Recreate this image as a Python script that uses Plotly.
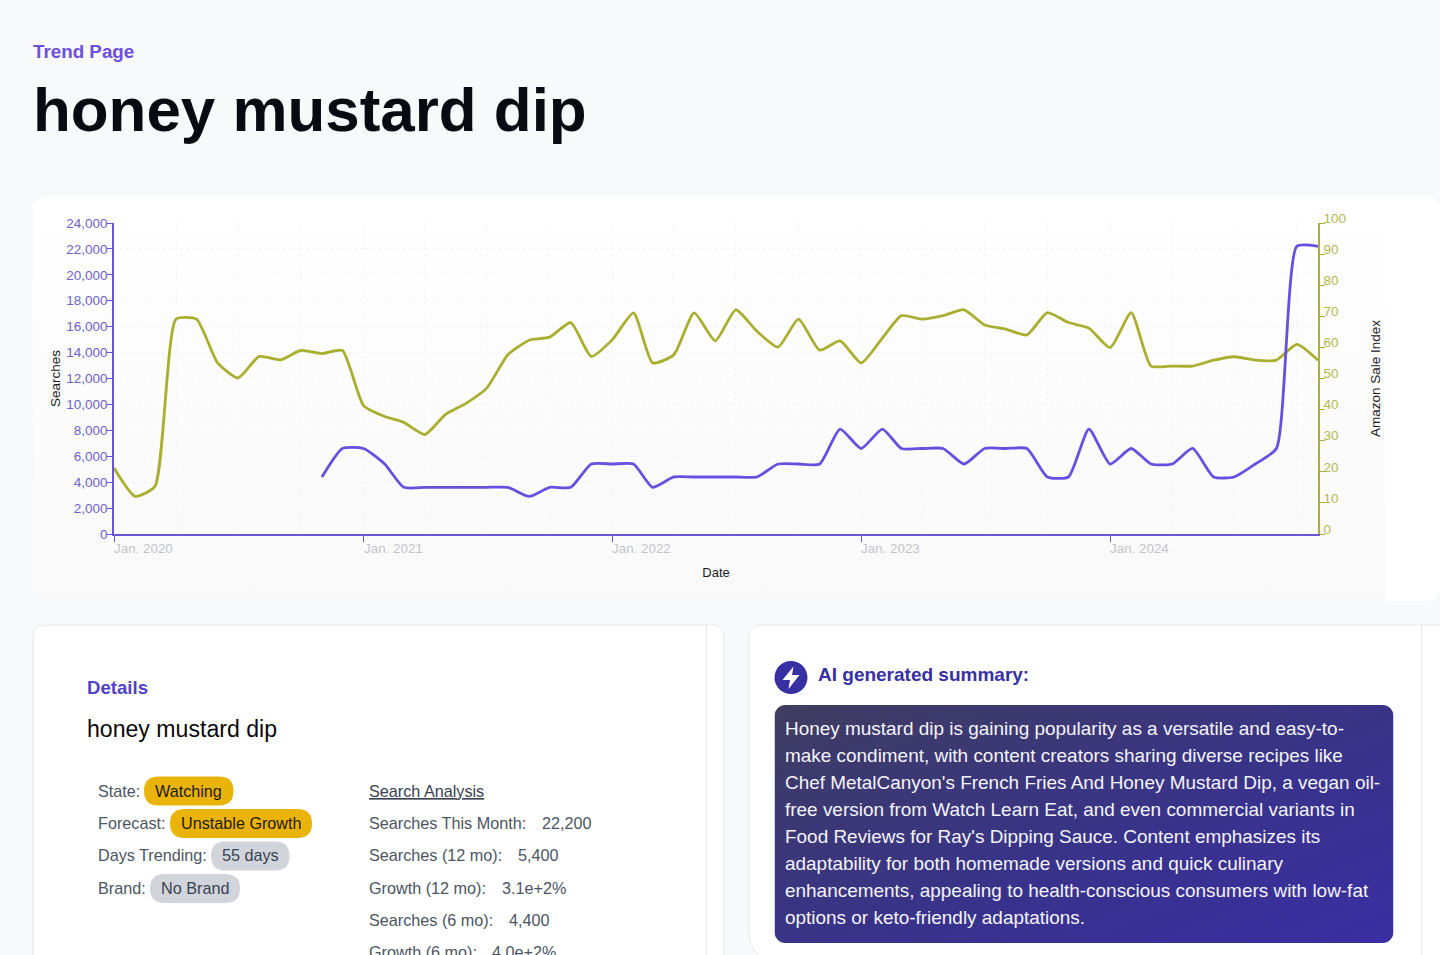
import base64
import pandas as pd
import plotly.graph_objects as go

W, H = 1440, 955
FONT = "Liberation Sans"

# ---- data -------------------------------------------------------------
dates = pd.date_range("2020-01-01", periods=59, freq="MS")
amazon_sale_index = [21.2, 12.1, 15.3, 69.1, 69.1, 55, 50.2, 57.1, 56, 59, 58, 59, 41.3, 37.8, 35.9, 32, 38.4, 42.1, 47, 57.7,
                     62.3, 63.3, 68, 57.1, 62.5, 71.1, 55, 57.6, 71.1, 62.1, 72.1, 65.2, 60.1, 69.1, 59.1, 62.1, 55, 63, 70.2, 69.1,
                     70.2, 72.1, 67.2, 65.9, 64, 71.2, 68, 66.2, 59.9, 71.2, 54, 54, 54, 55.9, 57, 55.9, 55.9, 61, 55.9]
searches = [None] * 10 + [4400, 6600, 6600, 5400, 3600, 3600, 3600, 3600, 3600, 3600,
                          2900, 3600, 3600, 5400, 5400, 5400, 3600, 4400, 4400, 4400, 4400, 4400, 5400, 5400, 5400, 8100, 6600, 8100, 6600, 6600,
                          6600, 5400, 6600, 6600, 6600, 4400, 4400, 8100, 5400, 6600, 5400, 5400, 6600, 4400, 4400, 5400, 6600, 22200, 22200]
year_ticks = ["2020-01-01", "2021-01-01", "2022-01-01", "2023-01-01", "2024-01-01"]
year_labels = ["Jan. 2020", "Jan. 2021", "Jan. 2022", "Jan. 2023", "Jan. 2024"]

detail_labels = ["State:", "Forecast:", "Days Trending:", "Brand:"]
detail_pills = ["Watching", "Unstable Growth", "55 days", "No Brand"]
search_labels = ["Searches This Month:", "Searches (12 mo):", "Growth (12 mo):", "Searches (6 mo):", "Growth (6 mo):"]
search_values = ["22,200", "5,400", "3.1e+2%", "4,400", "4.0e+2%"]
summary_lines = [
    "Honey mustard dip is gaining popularity as a versatile and easy-to-",
    "make condiment, with content creators sharing diverse recipes like",
    "Chef MetalCanyon's French Fries And Honey Mustard Dip, a vegan oil-",
    "free version from Watch Learn Eat, and even commercial variants in",
    "Food Reviews for Ray's Dipping Sauce. Content emphasizes its",
    "adaptability for both homemade versions and quick culinary",
    "enhancements, appealing to health-conscious consumers with low-fat",
    "options or keto-friendly adaptations.",
]

# ---- layout helpers (page pixels -> paper) ------------------------------
def px(x): return x / W
def py(y): return 1 - y / H

def rrect(x0, y0, x1, y1, r, rb=None):
    rb = r if rb is None else rb
    def P(x, y): return f"{px(x):.5f},{py(y):.5f}"
    return (f"M{P(x0 + r, y0)} L{P(x1 - r, y0)} Q{P(x1, y0)} {P(x1, y0 + r)} "
            f"L{P(x1, y1 - rb)} Q{P(x1, y1)} {P(x1 - rb, y1)} L{P(x0 + rb, y1)} "
            f"Q{P(x0, y1)} {P(x0, y1 - rb)} L{P(x0, y0 + r)} Q{P(x0, y0)} {P(x0 + r, y0)} Z")

def panel(x0, y0, x1, y1, r, fill, line=None, layer="below", rb=None):
    return dict(type="path", path=rrect(x0, y0, x1, y1, r, rb), xref="paper", yref="paper", fillcolor=fill,
                line=dict(color=line or "rgba(0,0,0,0)", width=1), layer=layer)

def text(x, y, s, size, color, bold=False, **kw):
    font = dict(family=FONT, size=size, color=color, weight="bold" if bold else "normal")
    font.update(kw.pop("font", {}))
    return dict(x=px(x), y=py(y - 0.7), xref="paper", yref="paper", text=s, showarrow=False, xanchor="left", yanchor="middle",
                borderpad=0, borderwidth=0, font=font, **kw)

def svg_uri(svg): return "data:image/svg+xml;base64," + base64.b64encode(svg.encode()).decode()

chart_card_svg = """<svg xmlns="http://www.w3.org/2000/svg" width="1407" height="404" viewBox="0 0 1407 404">
<defs><linearGradient id="g" x1="0" y1="0" x2="0" y2="1"><stop offset="0" stop-color="#ffffff"/><stop offset="1" stop-color="#f9f9fa"/></linearGradient></defs>
<rect width="1407" height="404" rx="14" fill="#ffffff"/><path d="M14 0H1352V404H14A14 14 0 0 1 0 390V14A14 14 0 0 1 14 0Z" fill="url(#g)"/></svg>"""
summary_svg = """<svg xmlns="http://www.w3.org/2000/svg" width="619" height="238" viewBox="0 0 619 238">
<defs><linearGradient id="s" x1="0" y1="0" x2="1" y2="1"><stop offset="0" stop-color="#3f3d60"/><stop offset="0.55" stop-color="#39338a"/><stop offset="1" stop-color="#3a2ea3"/></linearGradient></defs>
<rect width="619" height="238" rx="11" fill="url(#s)"/></svg>"""

PURPLE, OLIVE = "#6650e0", "#a9ae2e"
AX_PURPLE, AX_OLIVE = "#6a55d6", "#a9ae3c"
GRID = "#f3f3f5"

fig = go.Figure()
fig.add_trace(go.Scatter(x=dates, y=amazon_sale_index, yaxis="y", mode="lines", name="Amazon Sale Index",
                         line=dict(color=OLIVE, width=2.8, shape="spline", smoothing=0.55)))
fig.add_trace(go.Scatter(x=dates, y=searches, yaxis="y2", mode="lines", name="Searches",
                         line=dict(color=PURPLE, width=2.8, shape="spline", smoothing=0.55)))

shapes = [
    panel(33, 625, 724, 1000, 12, "#ffffff", "#e7e8ec"),
    dict(type="line", xref="paper", yref="paper", x0=px(706.5), x1=px(706.5), y0=py(625), y1=0, line=dict(color="#e7e8ec", width=1), layer="below"),
    panel(749, 625, 1470, 961, 14, "#ffffff", "#e7e8ec", rb=31),
    dict(type="line", xref="paper", yref="paper", x0=px(1421.5), x1=px(1421.5), y0=py(625), y1=0, line=dict(color="#e7e8ec", width=1), layer="below"),
]
pill_boxes = [(144, 776.5, 233.5, 805.5, "#eab308"), (170, 809, 312, 838, "#eab308"),
              (211, 841.5, 289.5, 870.5, "#d1d5db"), (150, 874, 240, 903, "#d1d5db")]
for b in pill_boxes:
    shapes.append(panel(b[0], b[1], b[2], b[3], 14.5, b[4]))
# AI icon
shapes.append(dict(type="circle", xref="paper", yref="paper", x0=px(774.5), x1=px(807.5), y0=py(661), y1=py(694),
                   fillcolor="#3730a3", line=dict(width=0), layer="above"))
bolt = [(793.5, 666.5), (782.5, 680), (790, 680), (788.5, 689), (799.5, 675), (792, 675)]
shapes.append(dict(type="path", xref="paper", yref="paper", fillcolor="#ffffff", line=dict(width=0), layer="above",
                   path="M" + " L".join(f"{px(a):.5f},{py(b):.5f}" for a, b in bolt) + " Z"))

ann = [
    text(32.5, 52.5, "Trend Page", 18.8, "#6d4fe0", True),
    text(33, 110, "honey mustard dip", 61.9, "#0a0a12", True),
    text(87, 688.5, "Details", 18.6, "#4f42c8", True),
    text(87, 729.5, "honey mustard dip", 23.1, "#0a0a0a"),
    text(369, 791.5, "Search Analysis", 16.2, "#374151", font=dict(lineposition="under")),
    text(818, 675, "AI generated summary:", 19, "#3730a3", True),
]
label_y = [791.5, 824, 856, 889]
label_x = [97.5, 97.5, 97.5, 97.5]
pill_text_x = [155, 181, 222, 161]
pill_color = ["#1f1a05", "#1f1a05", "#374151", "#374151"]
for i in range(4):
    ann.append(text(label_x[i], label_y[i], detail_labels[i], 16.2, "#4b5563"))
    ann.append(text(pill_text_x[i], label_y[i], detail_pills[i], 16.2, pill_color[i]))
sa_y = [824, 856, 888.5, 921, 953]
sa_val_x = [542, 518, 502, 508.5, 492]
for i in range(5):
    ann.append(text(369, sa_y[i], search_labels[i], 16.2, "#4b5563"))
    ann.append(text(sa_val_x[i], sa_y[i], search_values[i], 16.2, "#4b5563"))
for i, line in enumerate(summary_lines):
    ann.append(text(785, 729 + 27 * i, line, 18.95, "#f4f4fb"))
for t, lab in zip(year_ticks, year_labels):
    ann.append(dict(x=t, y=py(548.5), xref="x", yref="paper", text=lab, showarrow=False, xanchor="left", yanchor="middle",
                    borderpad=0, borderwidth=0, font=dict(family=FONT, size=13.4, color="#c4c4c8")))

fig.update_layout(
    width=W, height=H, autosize=False, showlegend=False,
    margin=dict(l=0, r=0, t=0, b=0, autoexpand=False), paper_bgcolor="#f8f9fb", plot_bgcolor="rgba(0,0,0,0)",
    font=dict(family=FONT, size=13),
    xaxis=dict(
        domain=[px(114), px(1318)], type="date", range=[dates[0], dates[-1]],
        tickvals=year_ticks, ticktext=[""] * 5, ticks="outside", ticklen=6, tickcolor=AX_PURPLE, tickwidth=1,
        showline=True, linecolor=AX_PURPLE, linewidth=1.5, showgrid=False, zeroline=False,
        minor=dict(dtick="M3", tick0="2020-01-01", showgrid=True, griddash="dot", gridcolor=GRID, gridwidth=1, ticks=""),
        title=dict(text="Date", font=dict(family=FONT, size=13, color="#1a1a1a"), standoff=25),
    ),
    yaxis=dict(
        domain=[1 - 534 / H, 1 - 223 / H], range=[0, 100], side="right", anchor="x", dtick=10,
        showgrid=False, zeroline=False, showline=True, linecolor=AX_OLIVE, linewidth=1.5,
        ticks="outside", ticklen=5, tickcolor=AX_OLIVE, tickfont=dict(family=FONT, size=13.5, color="#b3b74f"),
        ticklabelshift=-5, ticklabelstandoff=-4,
        title=dict(text="Amazon Sale Index", font=dict(family=FONT, size=13.5, color="#1a1a1a"), standoff=26),
    ),
    yaxis2=dict(
        domain=[1 - 534 / H, 1 - 223 / H], range=[0, 24000], side="left", anchor="x", overlaying="y", dtick=2000,
        tickformat=",d", showgrid=True, griddash="dot", gridcolor=GRID, zeroline=False, showline=True,
        linecolor=AX_PURPLE, linewidth=1.5, ticks="outside", ticklen=5, tickcolor=AX_PURPLE, ticklabelstandoff=-3,
        tickfont=dict(family=FONT, size=13.5, color="#6f5fd0"),
        title=dict(text="Searches", font=dict(family=FONT, size=13.5, color="#1a1a1a"), standoff=3),
    ),
    shapes=shapes, annotations=ann,
    images=[
        dict(source=svg_uri(chart_card_svg), xref="paper", yref="paper", x=px(33), y=py(197), sizex=1407 / W, sizey=404 / H,
             xanchor="left", yanchor="top", sizing="stretch", layer="below"),
        dict(source=svg_uri(summary_svg), xref="paper", yref="paper", x=px(774.5), y=py(705), sizex=619 / W, sizey=238 / H,
             xanchor="left", yanchor="top", sizing="stretch", layer="above"),
    ],
)

fig.write_html("out.html", config=dict(displayModeBar=False),
               post_script="document.body.style.margin='0';document.body.style.overflow='hidden';document.body.style.background='#f8f9fb';")
